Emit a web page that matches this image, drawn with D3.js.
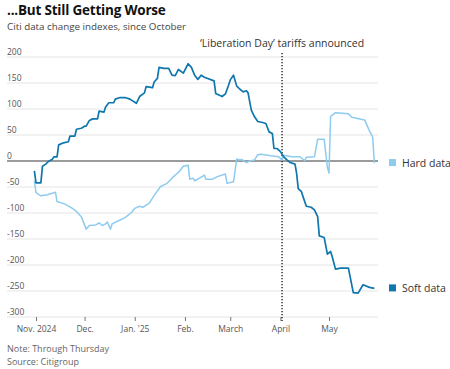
<!DOCTYPE html>
<html>
<head>
<meta charset="utf-8">
<script src="https://cdn.jsdelivr.net/npm/d3@7"></script>
<style>
  html, body { margin: 0; padding: 0; background: #fff; }
  svg { display: block; font-family: "Open Sans", "Noto Sans", sans-serif; }
</style>
</head>
<body>
<svg id="chart" width="450" height="369"></svg>
<script>
// ---- Data ----
const softDates = ["2024-10-31","2024-11-01","2024-11-04","2024-11-05","2024-11-07","2024-11-09","2024-11-11","2024-11-12","2024-11-14","2024-11-15","2024-11-18","2024-11-21","2024-11-22","2024-11-25","2024-11-26","2024-11-29","2024-12-01","2024-12-02","2024-12-04","2024-12-06","2024-12-09","2024-12-10","2024-12-13","2024-12-14","2024-12-16","2024-12-19","2024-12-20","2024-12-23","2024-12-26","2024-12-29","2025-01-02","2025-01-04","2025-01-07","2025-01-08","2025-01-12","2025-01-13","2025-01-15","2025-01-16","2025-01-19","2025-01-22","2025-01-24","2025-01-26","2025-01-28","2025-01-31","2025-02-03","2025-02-05","2025-02-07","2025-02-09","2025-02-11","2025-02-13","2025-02-19","2025-02-20","2025-02-24","2025-02-26","2025-02-28","2025-03-01","2025-03-03","2025-03-05","2025-03-07","2025-03-09","2025-03-11","2025-03-12","2025-03-14","2025-03-16","2025-03-18","2025-03-21","2025-03-23","2025-03-25","2025-03-27","2025-03-28","2025-03-30","2025-04-01","2025-04-03","2025-04-05","2025-04-07","2025-04-10","2025-04-11","2025-04-12","2025-04-14","2025-04-15","2025-04-17","2025-04-20","2025-04-22","2025-04-24","2025-04-25","2025-04-28","2025-04-30","2025-05-02","2025-05-03","2025-05-05","2025-05-08","2025-05-13","2025-05-16","2025-05-19","2025-05-22","2025-05-26","2025-05-29"];
const softValues = [-19,-42,-42,-10,-6,0,3,8,8,31,35,37,48,48,61,63,67,67,78,81,81,96,94,104,112,112,119,122,122,119,111,124,131,143,141,152,159,180,178,178,165,164,176,169,187,180,165,157,165,161,154,130,124,129,146,156,165,144,138,133,135,131,98,85,76,74,72,56,53,24,24,18,8,2,-3,-6,-24,-53,-59,-69,-87,-89,-94,-107,-144,-147,-179,-174,-184,-208,-206,-206,-253,-254,-238,-243,-245];

const hardDates = ["2024-10-31","2024-11-01","2024-11-04","2024-11-08","2024-11-13","2024-11-14","2024-11-19","2024-11-23","2024-11-26","2024-11-29","2024-12-02","2024-12-04","2024-12-08","2024-12-10","2024-12-12","2024-12-14","2024-12-15","2024-12-17","2024-12-18","2024-12-22","2024-12-26","2024-12-30","2025-01-01","2025-01-04","2025-01-06","2025-01-10","2025-01-13","2025-01-17","2025-01-21","2025-01-24","2025-01-26","2025-01-28","2025-01-31","2025-02-03","2025-02-04","2025-02-06","2025-02-07","2025-02-10","2025-02-13","2025-02-14","2025-02-18","2025-02-21","2025-02-26","2025-02-27","2025-03-03","2025-03-05","2025-03-07","2025-03-08","2025-03-11","2025-03-13","2025-03-16","2025-03-18","2025-03-20","2025-03-26","2025-03-31","2025-04-02","2025-04-03","2025-04-08","2025-04-13","2025-04-16","2025-04-17","2025-04-22","2025-04-24","2025-04-28","2025-04-30","2025-05-01","2025-05-02","2025-05-05","2025-05-13","2025-05-15","2025-05-23","2025-05-26","2025-05-28","2025-05-29"];
const hardValues = [-38,-61,-67,-65,-60,-78,-83,-90,-97,-107,-131,-124,-123,-119,-124,-121,-117,-131,-121,-115,-109,-99,-91,-87,-89,-81,-66,-49,-43,-33,-27,-22,-10,-8,-35,-33,-38,-33,-27,-35,-35,-30,-25,-43,-40,4,2,3,-3,0,2,12,13,10,8,2,11,8,8,1,7,8,42,42,-12,-23,86,93,91,84,79,58,46,-4];

const yTicks = [200,150,100,50,0,-50,-100,-150,-200,-250,-300];
const xTickDates = ["2024-11-01","2024-12-01","2025-01-01","2025-02-01","2025-03-01","2025-04-01","2025-05-01"];
const xTickLabels = ["Nov. 2024","Dec.","Jan. '25","Feb.","March","April","May"];
const eventDate = "2025-04-02";
const eventLabel = "\u2018Liberation Day\u2019 tariffs announced";
const seriesNames = ["Hard data","Soft data"];

// ---- Layout ----
const parse = d3.utcParse("%Y-%m-%d");
const svg = d3.select("#chart");
const gridLeft = 7, gridRight = 378;

const x = d3.scaleUtc()
  .domain([parse("2024-11-01"), parse("2025-05-01")])
  .range([36, 329]);
const y = d3.scaleLinear().domain([-300, 200]).range([317, 57]);

const colHard = "#8ecbef";
const colSoft = "#0f76ae";

// Title
svg.append("text").attr("x", 7).attr("y", 15)
  .attr("font-size", 13.5).attr("font-weight", 700).attr("fill", "#111")
  .attr("letter-spacing", -0.2)
  .text("...But Still Getting Worse");
svg.append("text").attr("x", 7).attr("y", 30)
  .attr("font-size", 9.8).attr("fill", "#444")
  .text("Citi data change indexes, since October");

// Gridlines and y labels
const gy = svg.append("g");
yTicks.forEach(t => {
  gy.append("line")
    .attr("x1", gridLeft).attr("x2", gridRight)
    .attr("y1", y(t)).attr("y2", y(t))
    .attr("stroke", t === 0 ? "#7a7a7a" : "#e5e5e5")
    .attr("stroke-width", t === 0 ? 1.3 : 1);
  gy.append("text")
    .attr("x", gridLeft).attr("y", y(t) - 2.5)
    .attr("font-size", 8.5).attr("fill", "#555")
    .text(t);
});

// X axis
const xAxis = d3.axisBottom(x)
  .tickValues(xTickDates.map(parse))
  .tickSize(4)
  .tickFormat((d, i) => xTickLabels[i]);
const gx = svg.append("g").attr("transform", `translate(0,${y(-300)})`).call(xAxis);
gx.select(".domain").remove();
gx.selectAll(".tick line").attr("stroke", "#777");
gx.selectAll(".tick text").attr("font-size", 8.5).attr("fill", "#555")
  .attr("font-family", "Open Sans, sans-serif").attr("dy", "0.95em");

// Event line
const ex = x(parse(eventDate));
svg.append("line")
  .attr("x1", ex).attr("x2", ex).attr("y1", 53).attr("y2", 321)
  .attr("stroke", "#222").attr("stroke-width", 1.4)
  .attr("stroke-dasharray", "1.3,1.7");
svg.append("text").attr("x", ex).attr("y", 47)
  .attr("text-anchor", "middle").attr("font-size", 10.5).attr("fill", "#333")
  .text(eventLabel);

// Lines
const line = d3.line().x(d => x(d[0])).y(d => y(d[1]));
const hard = hardDates.map((d, i) => [parse(d), hardValues[i]]);
const soft = softDates.map((d, i) => [parse(d), softValues[i]]);

svg.append("path").datum(hard).attr("d", line)
  .attr("fill", "none").attr("stroke", colHard).attr("stroke-width", 1.5)
  .attr("stroke-linejoin", "round");
svg.append("path").datum(soft).attr("d", line)
  .attr("fill", "none").attr("stroke", colSoft).attr("stroke-width", 1.7)
  .attr("stroke-linejoin", "round");

// Legend labels at line ends
const legend = [
  {name: seriesNames[0], color: colHard, v: hardValues[hardValues.length - 1]},
  {name: seriesNames[1], color: colSoft, v: softValues[softValues.length - 1]}
];
legend.forEach(l => {
  const ly = y(l.v);
  svg.append("rect").attr("x", 389).attr("y", ly - 4).attr("width", 7).attr("height", 7)
    .attr("fill", l.color);
  svg.append("text").attr("x", 402).attr("y", ly + 3.5)
    .attr("font-size", 10.5).attr("fill", "#333").text(l.name);
});

// Notes
svg.append("text").attr("x", 7).attr("y", 352)
  .attr("font-size", 9).attr("fill", "#666").text("Note: Through Thursday");
svg.append("text").attr("x", 7).attr("y", 365)
  .attr("font-size", 9).attr("fill", "#666").text("Source: Citigroup");
</script>
</body>
</html>
